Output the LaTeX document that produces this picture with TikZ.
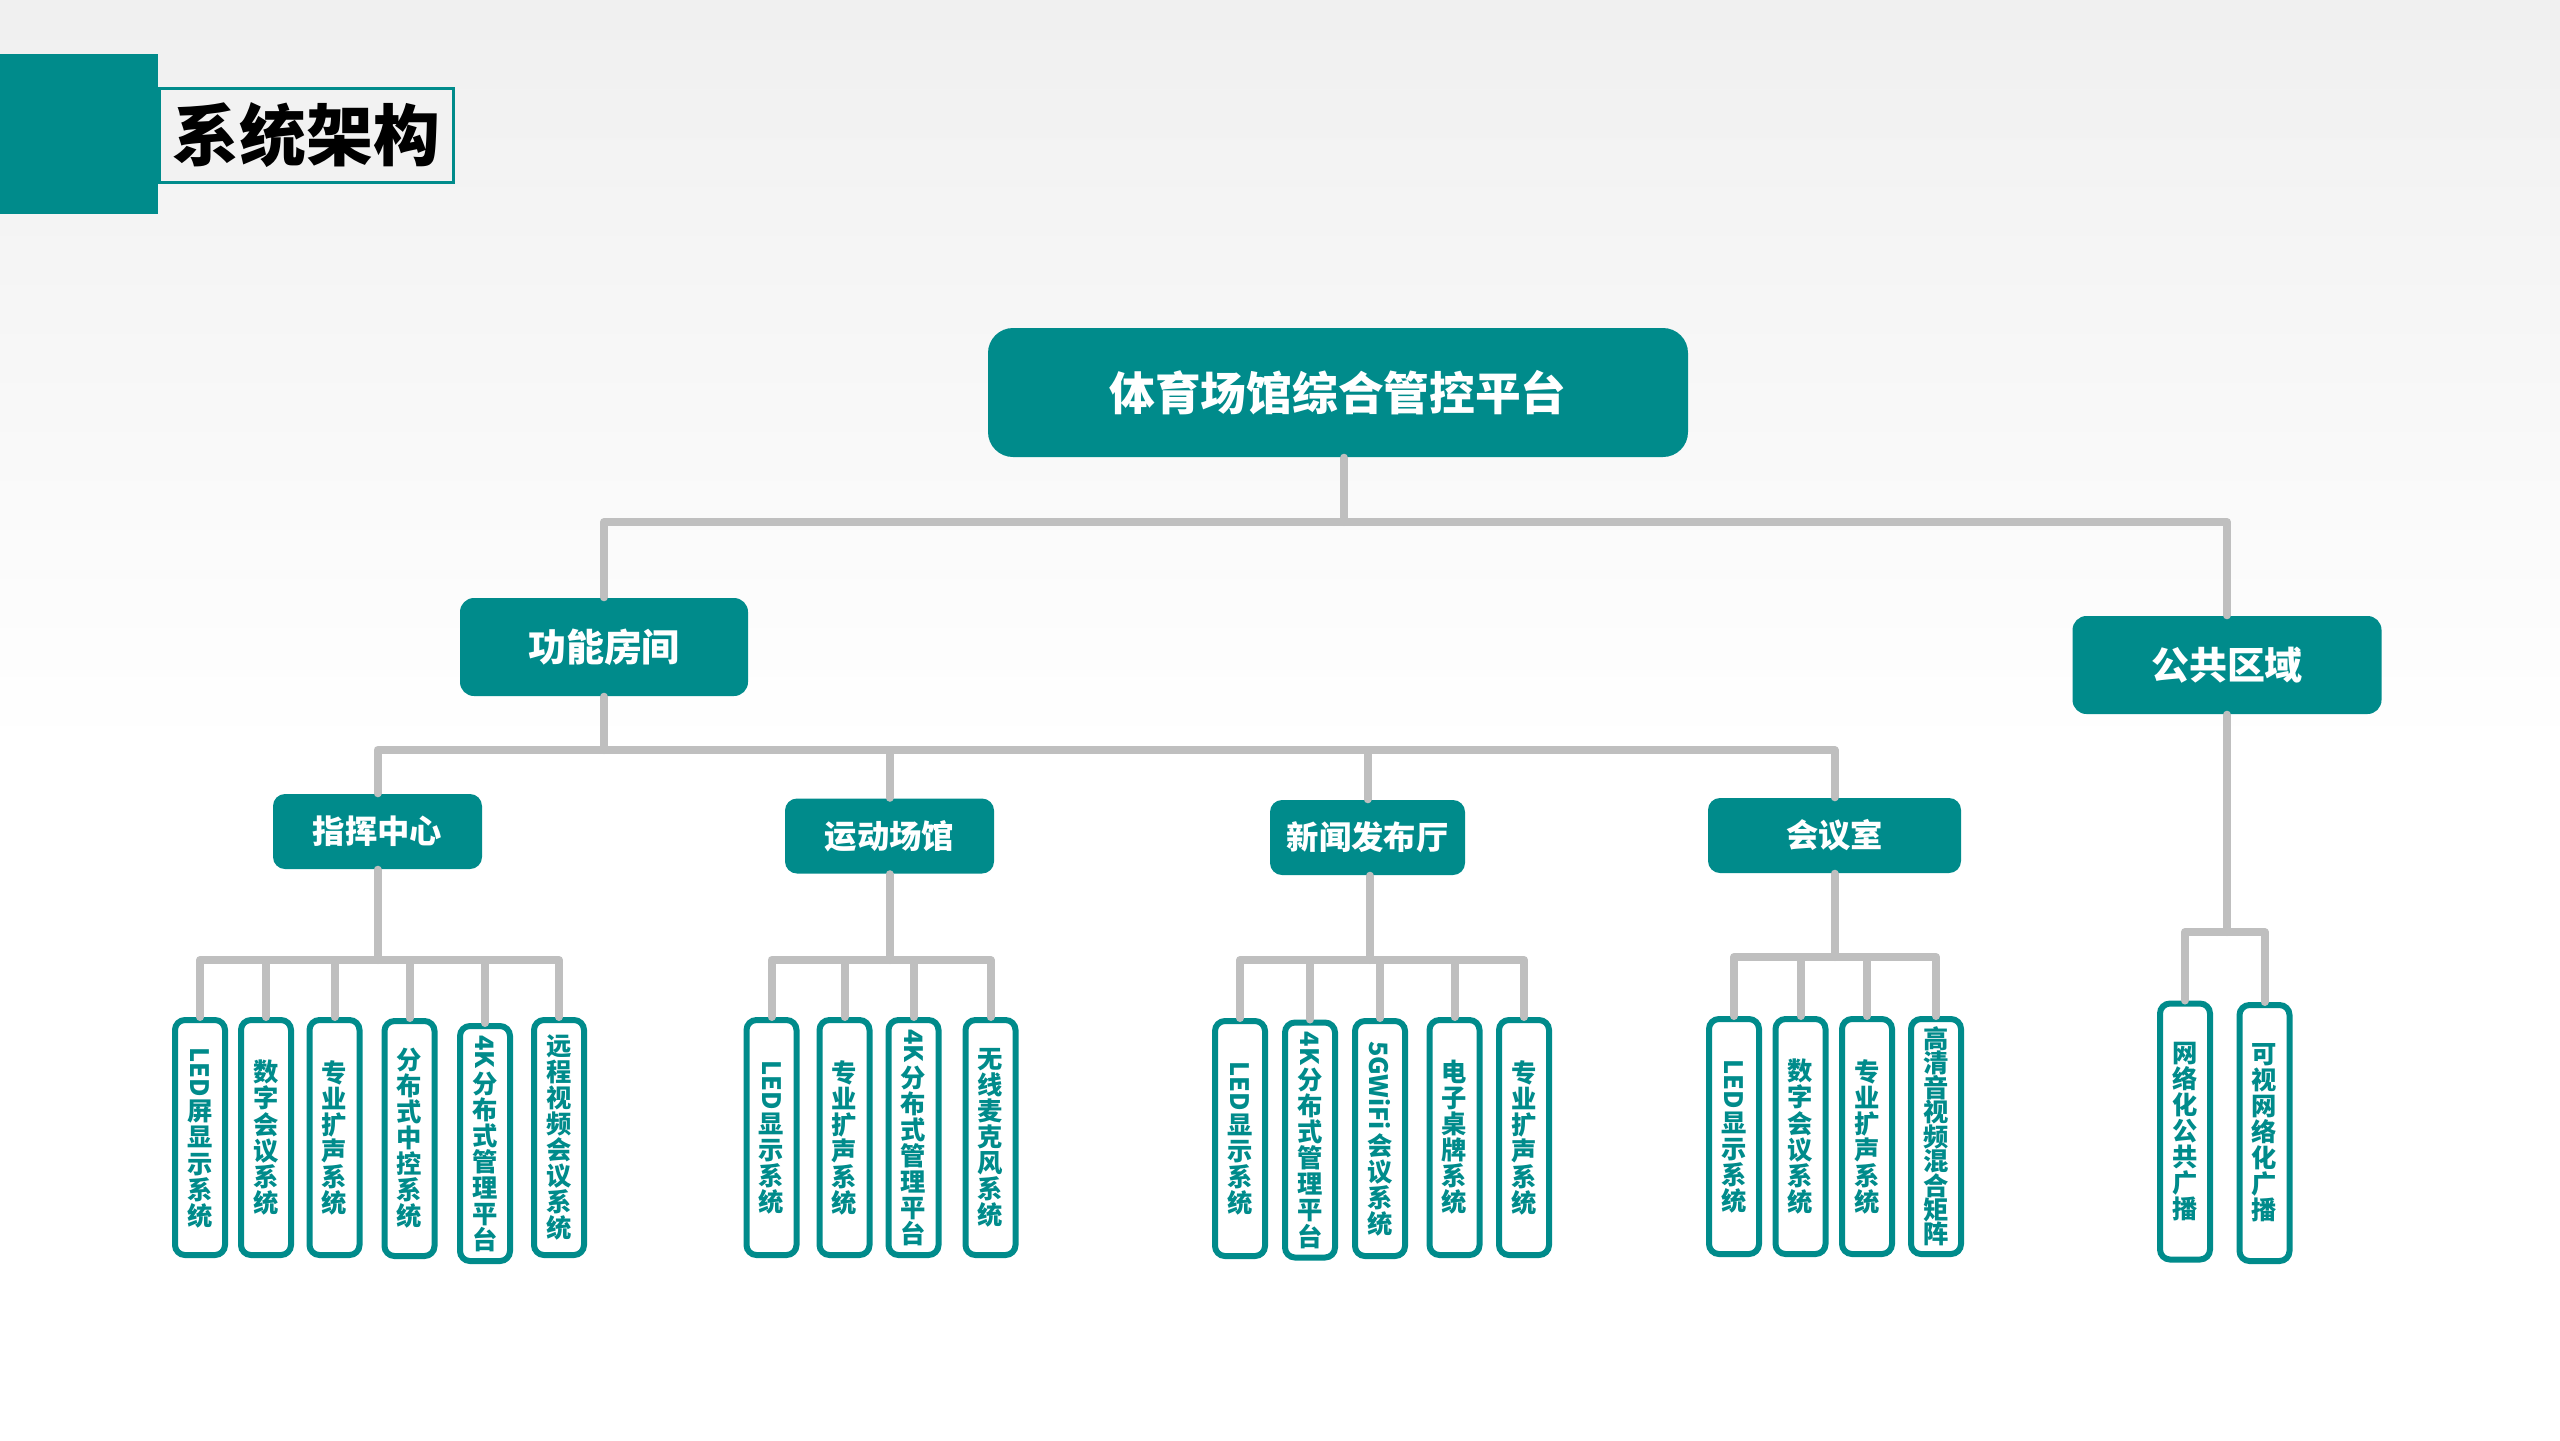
\documentclass[tikz,border=0pt]{standalone}
\usepackage{fontspec}
\setmainfont{Noto Sans CJK SC}
\usepackage{graphicx}
\definecolor{tealmain}{RGB}{0,139,139}
\definecolor{linkgray}{RGB}{191,191,191}
\tikzset{
  titlebox/.style={rectangle, draw=tealmain, line width=0.03cm, fill=black!5, minimum width=2.94cm, minimum height=0.94cm, text=black, font=\fontsize{19pt}{21pt}\selectfont\bfseries},
  platform/.style={rectangle, rounded corners=0.25cm, minimum width=7cm, minimum height=1.29cm, fill=tealmain, text=white, font=\fontsize{13pt}{15pt}\selectfont\bfseries},
  area/.style={rectangle, rounded corners=0.14cm, minimum height=0.98cm, fill=tealmain, text=white, font=\fontsize{10.8pt}{12pt}\selectfont\bfseries},
  room/.style={rectangle, rounded corners=0.12cm, minimum height=0.75cm, fill=tealmain, text=white, font=\fontsize{9.2pt}{11pt}\selectfont\bfseries},
  subsys/.style={rectangle, rounded corners=0.1cm, draw=tealmain, line width=0.06cm, fill=white, text=tealmain, minimum width=0.5cm, minimum height=2.35cm, inner sep=0pt, align=center, font=\fontsize{7.2pt}{7.4pt}\selectfont\bfseries},
  link/.style={draw=linkgray, line width=0.08cm, line cap=round, line join=round}
}

\begin{document}
\begin{tikzpicture}
        \useasboundingbox (0,0) rectangle (25.6,-14.4);
        % fondo
        \shade[top color=black!6, bottom color=white] (0,0) rectangle (25.6,-7.5);
        \fill[white] (0,-7.5) rectangle (25.6,-14.4);

        % 标题
        \fill[tealmain] (0,-0.54) rectangle (1.58,-2.14);
        \node (title) [titlebox] at (3.065,-1.355) {系统架构};

        % 平台与区域
        \node (root) [platform] at (13.38,-3.925) {体育场馆综合管控平台};
        \node (func) [area, minimum width=2.88cm] at (6.04,-6.47) {功能房间};
        \node (pub) [area, minimum width=3.09cm] at (22.27,-6.65) {公共区域};

        % 房间
        \node (cmd) [room, minimum width=2.09cm] at (3.775,-8.315) {指挥中心};
        \node (arena) [room, minimum width=2.09cm] at (8.895,-8.36) {运动场馆};
        \node (press) [room, minimum width=1.95cm] at (13.675,-8.375) {新闻发布厅};
        \node (meet) [room, minimum width=2.53cm] at (18.345,-8.355) {会议室};

        % 指挥中心 子系统
        \node (cmd1) [subsys] at (2.00,-11.375) {\rotatebox{-90}{LED}\\屏\\显\\示\\系\\统};
        \node (cmd2) [subsys] at (2.66,-11.375) {数\\字\\会\\议\\系\\统};
        \node (cmd3) [subsys] at (3.345,-11.375) {专\\业\\扩\\声\\系\\统};
        \node (cmd4) [subsys] at (4.095,-11.385) {分\\布\\式\\中\\控\\系\\统};
        \node (cmd5) [subsys] at (4.85,-11.435) {\rotatebox{-90}{4K}\\分\\布\\式\\管\\理\\平\\台};
        \node (cmd6) [subsys] at (5.59,-11.375) {远\\程\\视\\频\\会\\议\\系\\统};

        % 运动场馆 子系统
        \node (arena1) [subsys] at (7.715,-11.375) {\rotatebox{-90}{LED}\\显\\示\\系\\统};
        \node (arena2) [subsys] at (8.445,-11.375) {专\\业\\扩\\声\\系\\统};
        \node (arena3) [subsys] at (9.135,-11.375) {\rotatebox{-90}{4K}\\分\\布\\式\\管\\理\\平\\台};
        \node (arena4) [subsys] at (9.905,-11.375) {无\\线\\麦\\克\\风\\系\\统};

        % 新闻发布厅 子系统
        \node (press1) [subsys] at (12.40,-11.385) {\rotatebox{-90}{LED}\\显\\示\\系\\统};
        \node (press2) [subsys] at (13.10,-11.40) {\rotatebox{-90}{4K}\\分\\布\\式\\管\\理\\平\\台};
        \node (press3) [subsys] at (13.80,-11.385) {\rotatebox{-90}{5GWiFi}\\会\\议\\系\\统};
        \node (press4) [subsys] at (14.545,-11.375) {电\\子\\桌\\牌\\系\\统};
        \node (press5) [subsys] at (15.24,-11.375) {专\\业\\扩\\声\\系\\统};

        % 会议室 子系统
        \node (meet1) [subsys] at (17.34,-11.365) {\rotatebox{-90}{LED}\\显\\示\\系\\统};
        \node (meet2) [subsys] at (18.005,-11.365) {数\\字\\会\\议\\系\\统};
        \node (meet3) [subsys] at (18.67,-11.365) {专\\业\\扩\\声\\系\\统};
        \node (meet4) [subsys, font=\fontsize{7.2pt}{6.95pt}\selectfont\bfseries] at (19.36,-11.365) {高\\清\\音\\视\\频\\混\\合\\矩\\阵};

        % 公共区域 子系统
        \node (pub1) [subsys, minimum height=2.56cm] at (21.85,-11.315) {网\\络\\化\\公\\共\\广\\播};
        \node (pub2) [subsys, minimum height=2.56cm] at (22.645,-11.33) {可\\视\\网\\络\\化\\广\\播};

        % 连线
        \coordinate (topbar) at (13.44,-5.22);
        \coordinate (roombar) at (6.04,-7.50);
        \coordinate (cmdbar) at (3.775,-9.60);
        \coordinate (arenabar) at (8.895,-9.60);
        \coordinate (pressbar) at (13.70,-9.60);
        \coordinate (meetbar) at (18.345,-9.57);
        \coordinate (pubbar) at (22.27,-9.32);

        \draw [link] ([xshift=0.06cm]root.south) -- (topbar);
        \draw [link] (func.north) |- (topbar) -| (pub.north);

        \draw [link] (func.south) -- (roombar);
        \draw [link] (cmd.north) |- (roombar);
        \draw [link] (arena.north) |- (roombar);
        \draw [link] (press.north) |- (roombar);
        \draw [link] (meet.north) |- (roombar);

        \draw [link] (cmd.south) -- (cmdbar);
        \draw [link] (cmd1.north) |- (cmdbar);
        \draw [link] (cmd2.north) |- (cmdbar);
        \draw [link] (cmd3.north) |- (cmdbar);
        \draw [link] (cmd4.north) |- (cmdbar);
        \draw [link] (cmd5.north) |- (cmdbar);
        \draw [link] (cmd6.north) |- (cmdbar);

        \draw [link] (arena.south) -- (arenabar);
        \draw [link] (arena1.north) |- (arenabar);
        \draw [link] (arena2.north) |- (arenabar);
        \draw [link] (arena3.north) |- (arenabar);
        \draw [link] (arena4.north) |- (arenabar);

        \draw [link] (press.south -| pressbar) -- (pressbar);
        \draw [link] (press1.north) |- (pressbar);
        \draw [link] (press2.north) |- (pressbar);
        \draw [link] (press3.north) |- (pressbar);
        \draw [link] (press4.north) |- (pressbar);
        \draw [link] (press5.north) |- (pressbar);

        \draw [link] (meet.south) -- (meetbar);
        \draw [link] (meet1.north) |- (meetbar);
        \draw [link] (meet2.north) |- (meetbar);
        \draw [link] (meet3.north) |- (meetbar);
        \draw [link] (meet4.north) |- (meetbar);

        \draw [link] (pub.south) -- (pubbar);
        \draw [link] (pub1.north) |- (pubbar);
        \draw [link] (pub2.north) |- (pubbar);
    \end{tikzpicture}
\end{document}
